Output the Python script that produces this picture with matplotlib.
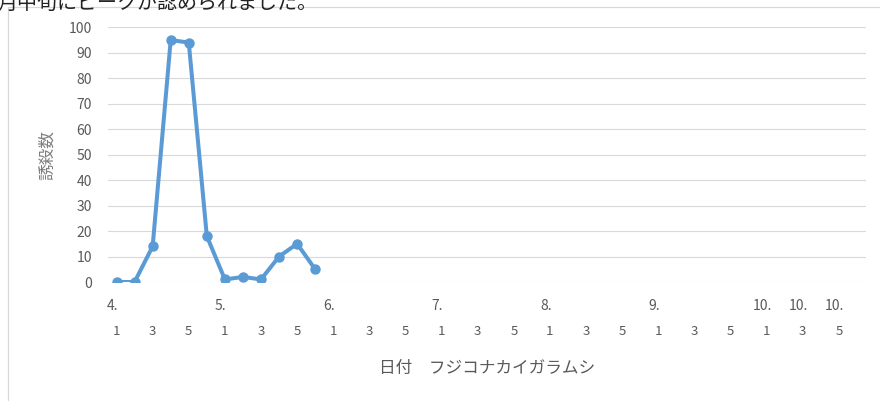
import numpy as np
import matplotlib.pyplot as plt
from matplotlib.patches import Rectangle
import matplotlib.transforms as mtransforms

plt.rcParams['font.family'] = ['Noto Sans CJK JP', 'DejaVu Sans']

# data: 5-day periods (半旬) from April to October, 6 per month
months = ["4.", "5.", "6.", "7.", "8.", "9.", "10."]
periods_per_month = 6
counts = [0, 0, 14, 95, 94, 18, 1, 2, 1, 10, 15, 5]

# labelled ticks: periods 1, 3 and 5 of each month
day_labels = ["1", "3", "5"] * len(months)
month_labels = ["4.", "", "", "5.", "", "", "6.", "", "", "7.", "", "",
                "8.", "", "", "9.", "", "", "10.", "10.", "10."]

title_text = "月中旬にピークが認められました。"
ylabel = "誘殺数"
xlabel = "日付　フジコナカイガラムシ"

line_color = "#5b9bd5"
grid_color = "#d9d9d9"
text_color = "#595959"

W, H = 880, 401
fig = plt.figure(figsize=(W / 100, H / 100), dpi=100)

# chart area border (only top and left visible)
fig.patches.append(Rectangle((8 / W, -0.1), 1.2, (H - 7) / H + 0.1,
                             transform=fig.transFigure, fill=False,
                             edgecolor=grid_color, linewidth=0.9))

# cut-off sentence at the top of the screenshot
fig.text(-3 / W, (H - 9) / H, title_text, fontsize=14.4, color="#222222",
         ha="left", va="baseline")

ax = fig.add_axes([107.5 / W, (H - 282) / H, 758.5 / W, 254.7 / H])

n_cat = len(months) * periods_per_month
x = np.arange(len(counts))
ax.plot(x, counts, color=line_color, linewidth=2.9, marker="o",
        markersize=6.5, solid_capstyle="round", solid_joinstyle="round")

ax.set_xlim(-0.5, n_cat - 0.5)
ax.set_ylim(0, 100)
ax.set_yticks(np.arange(0, 101, 10))
ax.grid(axis="y", color=grid_color, linewidth=0.8)
ax.set_axisbelow(True)
for s in ax.spines.values():
    s.set_visible(False)

tick_pos = [m * periods_per_month + d for m in range(len(months)) for d in (0, 2, 4)]
ax.set_xticks(tick_pos)
ax.set_xticklabels(day_labels)
ax.tick_params(axis="x", length=0, pad=31, labelsize=9.5, labelcolor=text_color)
ax.tick_params(axis="y", length=0, pad=11, labelsize=10, labelcolor=text_color)

trans = mtransforms.blended_transform_factory(ax.transData, ax.transAxes)
offset = mtransforms.ScaledTranslation(-4 / 100, 0, fig.dpi_scale_trans)
for p, lab in zip(tick_pos, month_labels):
    if lab:
        ax.text(p, -24 / 254.7, lab, transform=trans + offset, ha="center",
                va="center", fontsize=10, color=text_color)

ax.set_ylabel(ylabel, fontsize=12, color="#7f7f7f")
ax.yaxis.set_label_coords((47 - 107.5) / 758.5, 0.5)
ax.yaxis.label.set_va("center")

ax.set_xlabel(xlabel, fontsize=12, color=text_color)
ax.xaxis.set_label_coords(0.5, -87 / 254.7)
ax.xaxis.label.set_va("center")

fig.savefig("out.png", dpi=100)
